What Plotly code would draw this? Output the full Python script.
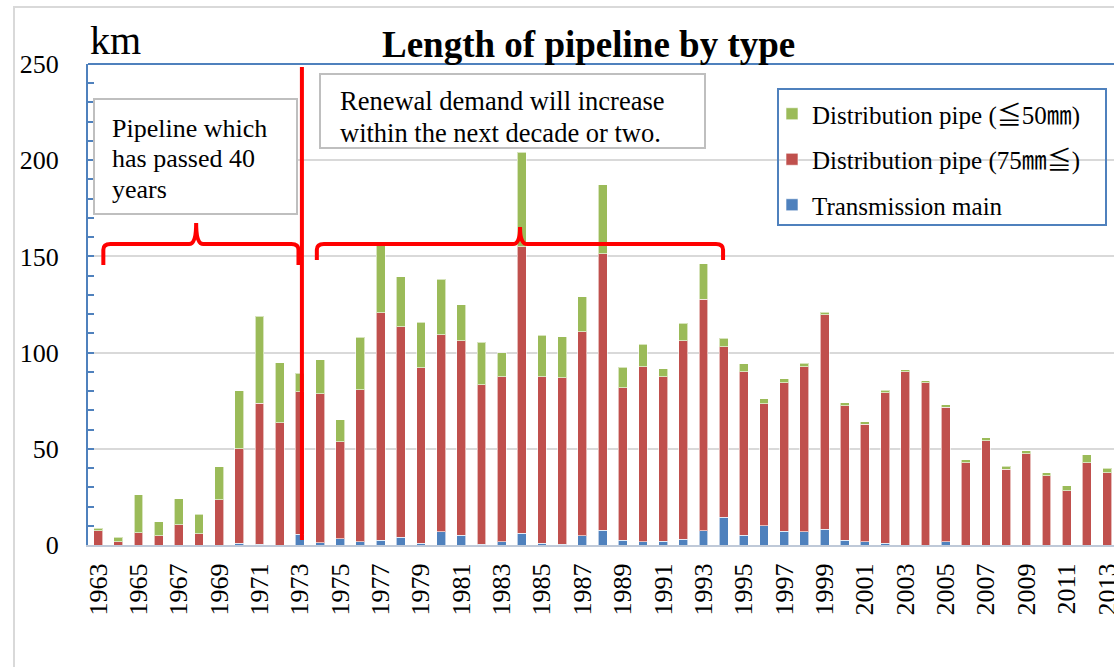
import plotly.graph_objects as go

# ---------------- data ----------------
years = list(range(1963, 2014))
transmission = [0, 0, 0, 0, 0, 0, 0, 0.9, 0.3, 0, 5.7, 1.2, 3.3, 1.6, 2.6, 4.0, 0.9, 6.9, 5.2, 0.3,
                1.7, 6.1, 0.9, 0.3, 4.9, 7.6, 2.4, 1.6, 1.9, 2.9, 7.3, 14.4, 5.0, 10.1, 7.1, 6.9, 8.1,
                2.6, 1.6, 1.0, 0, 0, 1.6, 0, 0, 0, 0, 0, 0, 0, 0]
dist_75 = [7.5, 1.7, 6.4, 4.7, 10.6, 5.9, 23.4, 49.0, 73.4, 63.6, 74.0, 77.3, 50.3, 79.0, 118.2, 109.5,
           91.3, 102.3, 100.9, 82.9, 85.8, 148.9, 86.6, 86.7, 106.0, 143.9, 79.4, 91.1, 85.6, 103.2,
           120.4, 88.7, 85.1, 63.4, 77.3, 85.8, 111.5, 69.8, 61.1, 78.2, 90.1, 84.4, 70.0, 42.8, 54.2,
           39.5, 47.5, 36.0, 28.2, 42.8, 37.6]
dist_50 = [1.2, 2.3, 19.6, 7.4, 13.5, 10.0, 17.3, 30.3, 45.3, 31.2, 9.6, 17.7, 11.4, 27.4, 36.9, 26.0,
           23.7, 28.9, 18.7, 22.3, 12.5, 49.2, 21.5, 21.3, 18.2, 35.7, 10.7, 11.6, 4.2, 9.2, 18.6, 4.4,
           4.0, 2.4, 2.1, 1.8, 1.4, 1.6, 1.3, 1.2, 1.1, 1.0, 1.2, 1.4, 1.6, 1.4, 1.4, 1.6, 2.5, 4.2, 2.4]
tick_years = [y for y in years if y % 2 == 1]
tick_text = [str(y) for y in tick_years]

names = ["Transmission main", "Distribution pipe (75㎜≦)", "Distribution pipe (≦50㎜)"]
colors = ["#4F81BD", "#C0504D", "#9BBB59"]

# ---------------- layout constants (pixels) ----------------
OFF = 0  # body margin removed via post_script
W, H = 1114 - OFF, 667 - OFF
L, R, T = 88 - OFF, 0, 64 - OFF
B = H - (545 - OFF)
PW, PH = W - L - R, H - T - B
FONT = "Liberation Serif, Times New Roman, Noto Sans CJK JP, serif"


def px_x(px):
    """page pixel x -> paper x"""
    return (px - OFF - L) / PW


def px_y(py):
    """page pixel y -> paper y"""
    return (H - B - (py - OFF)) / PH


fig = go.Figure()
series = [transmission, dist_75, dist_50]
ranks = [3, 2, 1]
for name, vals, col, rk in zip(names, series, colors, ranks):
    fig.add_trace(go.Bar(
        x=years, y=vals, name=name, marker_color=col,
        marker_line=dict(color="rgba(255,255,255,0.6)", width=1),
        width=0.44, legendrank=rk, legendgroup=name,
    ))

shapes = []
# outer chart border (light grey)
shapes.append(dict(type="rect", xref="paper", yref="paper",
                   x0=px_x(14), x1=px_x(1200), y0=px_y(7), y1=px_y(720),
                   line=dict(color="#D9D9D9", width=2), layer="below"))
# plot area top border
shapes.append(dict(type="line", xref="paper", yref="paper", x0=0, x1=1, y0=1, y1=1,
                   line=dict(color="#4F81BD", width=2)))
# legend frame
shapes.append(dict(type="rect", xref="paper", yref="paper",
                   x0=px_x(778), x1=px_x(1106), y0=px_y(225), y1=px_y(89),
                   line=dict(color="#4F81BD", width=2)))
# text boxes
shapes.append(dict(type="rect", xref="paper", yref="paper",
                   x0=px_x(94), x1=px_x(297), y0=px_y(214), y1=px_y(99),
                   line=dict(color="#BFBFBF", width=2), fillcolor="white"))
shapes.append(dict(type="rect", xref="paper", yref="paper",
                   x0=px_x(320), x1=px_x(705), y0=px_y(148), y1=px_y(74),
                   line=dict(color="#BFBFBF", width=2), fillcolor="white"))
# red vertical divider
shapes.append(dict(type="line", xref="x", yref="y", x0=1973.1, x1=1973.1, y0=2.6, y1=248.4,
                   line=dict(color="#FF0000", width=4)))


def bracket(x0, x1, xp, yh, yend, ypk, r=0.35, rv=3.0):
    return (f"M {x0},{yend} L {x0},{yh - rv} Q {x0},{yh} {x0 + r},{yh} "
            f"L {xp - r},{yh} Q {xp},{yh} {xp},{ypk} Q {xp},{yh} {xp + r},{yh} "
            f"L {x1 - r},{yh} Q {x1},{yh} {x1},{yh - rv} L {x1},{yend}")


shapes.append(dict(type="path", xref="x", yref="y",
                   path=bracket(1963.26, 1972.93, 1967.86, 156.4, 145.5, 167.4),
                   line=dict(color="#FF0000", width=4)))
shapes.append(dict(type="path", xref="x", yref="y",
                   path=bracket(1973.84, 1993.97, 1983.91, 156.4, 148.1, 165.3),
                   line=dict(color="#FF0000", width=4)))

annotations = []


def add_text(text, px, py, size, bold=False, anchor="left"):
    annotations.append(dict(
        text=f"<b>{text}</b>" if bold else text, xref="paper", yref="paper",
        x=px_x(px), y=px_y(py), xanchor=anchor, yanchor="middle", showarrow=False,
        font=dict(family=FONT, size=size, color="black")))


add_text("Length of pipeline by type", 588, 44, 37, bold=True, anchor="center")
add_text("km", 88, 41, 40)
add_text("Pipeline which", 110, 129, 26)
add_text("has passed 40", 110, 159, 26)
add_text("years", 110, 189, 26)
add_text("Renewal demand will increase", 338, 101, 26.5)
add_text("within the next decade or two.", 338, 133, 26.5)

fig.update_layout(
    width=W, height=H,
    margin=dict(l=L, r=R, t=T, b=B, pad=0, autoexpand=False),
    paper_bgcolor="white", plot_bgcolor="white",
    barmode="stack", bargap=0.56,
    font=dict(family=FONT, size=26, color="black"),
    shapes=shapes, annotations=annotations,
    legend=dict(x=px_x(772), y=px_y(91), xanchor="left", yanchor="top",
                borderwidth=0, bgcolor="rgba(0,0,0,0)",
                font=dict(family=FONT, size=25, color="black"),
                tracegroupgap=10, traceorder="grouped", itemwidth=30),
    xaxis=dict(range=[1962.5, 1962.5 + PW / 20.18], tickvals=tick_years, ticktext=tick_text,
               tickangle=-90, showgrid=False, zeroline=False, showline=True,
               linecolor="#BFC9D8", linewidth=2, ticks="", ticklabelstandoff=6,
               ticklabeloverflow="allow",
               automargin=False, tickfont=dict(family=FONT, size=26)),
    yaxis=dict(range=[0, 250], dtick=50, showgrid=True, gridcolor="#D9D9D9", gridwidth=1.5,
               zeroline=False, showline=True, linecolor="#4F81BD", linewidth=2,
               ticks="inside", ticklen=6, tickcolor="#4F81BD", tickwidth=2,
               minor=dict(dtick=10, ticks="inside", ticklen=6, tickcolor="#4F81BD", tickwidth=2,
                          showgrid=False),
               automargin=False, ticklabelstandoff=22, tickfont=dict(family=FONT, size=26)),
    showlegend=True,
)

fig.write_html(
    "out.html",
    config={"displayModeBar": False},
    post_script="document.body.style.margin='0';document.body.style.overflow='hidden';",
)
